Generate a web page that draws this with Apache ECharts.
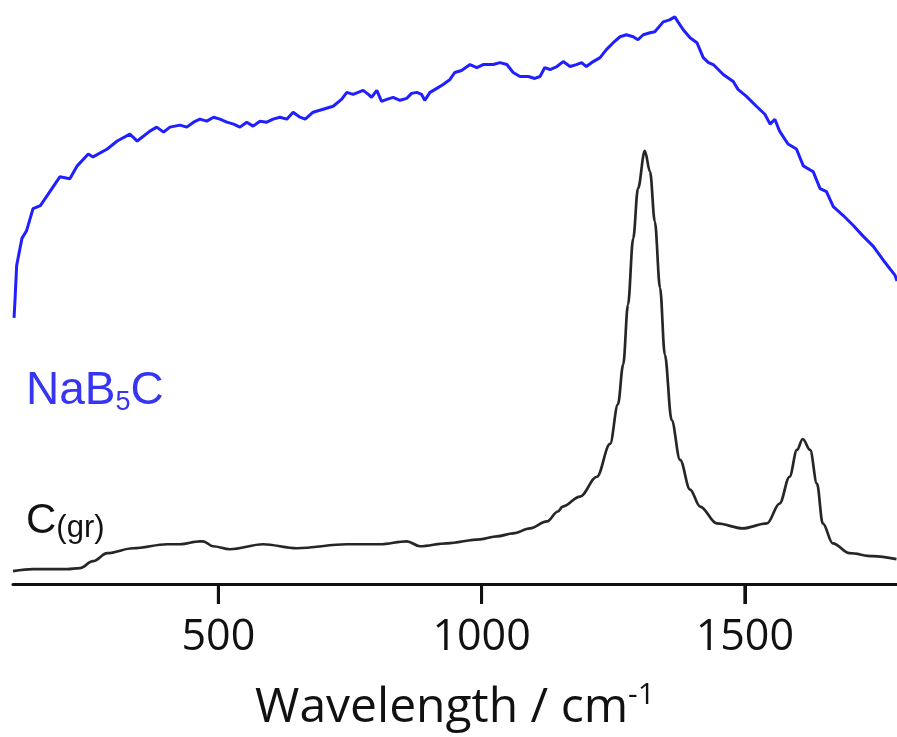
<!DOCTYPE html>
<html>
<head>
<meta charset="utf-8">
<script src="https://cdn.jsdelivr.net/npm/echarts@6/dist/echarts.min.js"></script>
<style>
html,body{margin:0;padding:0;background:#fff;}
#chart{width:897px;height:737px;}
</style>
</head>
<body>
<div id="chart"></div>
<script>
// Raman spectra (arbitrary intensity units)
const naB5cWavenumber = [
  112,114,117,127,136,148,162,180,199,218,
  232,253,262,289,308,332,346,370,383,396,
  408,427,440,453,465,478,491,503,516,529,
  541,554,566,579,592,604,617,630,642,655,
  665,680,699,718,734,744,756,775,785,791,
  801,810,820,832,845,858,867,877,886,892,
  902,915,927,940,949,962,978,991,1003,1022,
  1035,1048,1060,1073,1089,1101,1111,1120,1130,1143,
  1155,1168,1180,1190,1199,1212,1225,1237,1250,1263,
  1275,1288,1297,1307,1320,1329,1345,1357,1367,1373,
  1383,1396,1409,1421,1431,1440,1459,1478,1487,1503,
  1522,1538,1548,1557,1566,1582,1598,1611,1630,1643,
  1655,1668,1687,1706,1725,1744,1763,1785,1789];
const naB5cIntensity = [
  268,288,321,348,356,378,381,395,410,408,
  421,433,430,438,446,453,446,456,460,455,
  460,462,460,465,468,466,470,468,465,463,
  460,465,461,466,465,468,470,468,475,470,
  468,475,478,481,488,495,493,497,493,490,
  497,486,488,490,487,489,494,495,493,487,
  495,499,503,508,515,517,523,520,523,523,
  525,523,515,511,511,509,511,520,518,521,
  526,521,523,525,521,526,530,538,545,551,
  553,551,548,553,555,556,566,568,571,566,
  558,550,545,530,525,523,513,506,498,491,
  481,473,463,468,456,443,438,421,415,398,
  395,380,371,361,350,340,326,311,305];

const graphiteWavenumber = [110,148,180,213,237,262,289,338,403,427,465,471,490,522,585,649,744,807,858,883,934,997,1029,1060,1092,1124,1145,1154,1187,1219,1244,1259,1269,1278,1288,1297,1310,1320,1329,1339,1348,1361,1377,1396,1415,1447,1496,1542,1566,1585,1599,1610,1624,1637,1648,1667,1699,1743,1788];
const graphiteIntensity  = [13,15,15,15,16,23,31,36,40,40,43,43,38,35,40,36,40,40,43,38,41,45,48,51,56,63,73,78,88,108,141,181,221,281,348,398,436,415,365,298,231,165,125,95,78,61,56,61,81,108,135,146,135,101,61,41,31,28,25];

const xTicks = [500, 1000, 1500];
const xMin = 110, xMax = 1789;
const axisTitle = 'Wavelength / cm';
const axisTitleSup = '-1';

function pairs(xs, ys){ return xs.map((x,i)=>[x, ys[i]]); }

const chart = echarts.init(document.getElementById('chart'), null, {renderer:'canvas'});
chart.setOption({
  animation:false,
  backgroundColor:'#ffffff',
  grid:{left:13, right:0, top:0, bottom:149, containLabel:false},
  xAxis:{
    type:'value', min:xMin, max:xMax,
    axisLine:{show:true, onZero:false, lineStyle:{color:'#111', width:3}},
    axisTick:{show:true, inside:false, length:20, lineStyle:{color:'#111', width:3}, customValues:xTicks},
    axisLabel:{show:true, customValues:xTicks, margin:32, fontFamily:'Open Sans', fontSize:43, lineHeight:44, color:'#111',
      formatter:function(v){ return String(v); }},
    splitLine:{show:false},
    name:'{a|' + axisTitle + '}{b|' + axisTitleSup + '}',
    nameLocation:'middle', nameGap:96,
    nameTextStyle:{
      rich:{
        a:{fontFamily:'Open Sans', fontSize:48, lineHeight:56, color:'#111', verticalAlign:'middle'},
        b:{fontFamily:'Open Sans', fontSize:30, lineHeight:40, color:'#111', verticalAlign:'top'}
      }
    }
  },
  yAxis:{type:'value', min:0, max:588, show:false},
  series:[
    {
      name:'NaB5C', type:'line', data:pairs(naB5cWavenumber, naB5cIntensity),
      showSymbol:false, smooth:false, lineStyle:{color:'#1f1fff', width:3}, z:3
    },
    {
      name:'C(gr)', type:'line', data:pairs(graphiteWavenumber, graphiteIntensity),
      showSymbol:false, smooth:0.35, smoothMonotone:'x', lineStyle:{color:'#262626', width:2.7}, z:2
    },
    {
      // axis tick marks below the axis line, placed via the axis scale
      name:'ticks', type:'custom', silent:true, clip:false, z:5,
      data:xTicks.map(function(v){ return [v, 0]; }),
      renderItem:function(params, api){
        const p = api.coord([api.value(0), 0]);
        return {type:'line', shape:{x1:p[0], y1:p[1], x2:p[0], y2:p[1] + 20},
                style:{stroke:'#111', lineWidth:3}};
      }
    }
  ],
  graphic:[
    {
      type:'text', left:26, top:368,
      style:{
        text:'{m|NaB}{s|5}{m|C}',
        rich:{
          m:{fontFamily:'Liberation Sans', fontSize:46, lineHeight:50, fill:'#3535f2', verticalAlign:'middle'},
          s:{fontFamily:'Liberation Sans', fontSize:27, lineHeight:14, fill:'#3535f2', verticalAlign:'bottom'}
        }
      }
    },
    {
      type:'text', left:26, top:500,
      style:{
        text:'{m|C}{s|(gr)}',
        rich:{
          m:{fontFamily:'Liberation Sans', fontSize:42, lineHeight:46, fill:'#111', verticalAlign:'middle'},
          s:{fontFamily:'Liberation Sans', fontSize:31, lineHeight:20, fill:'#111', verticalAlign:'bottom'}
        }
      }
    }
  ]
});
</script>
</body>
</html>
